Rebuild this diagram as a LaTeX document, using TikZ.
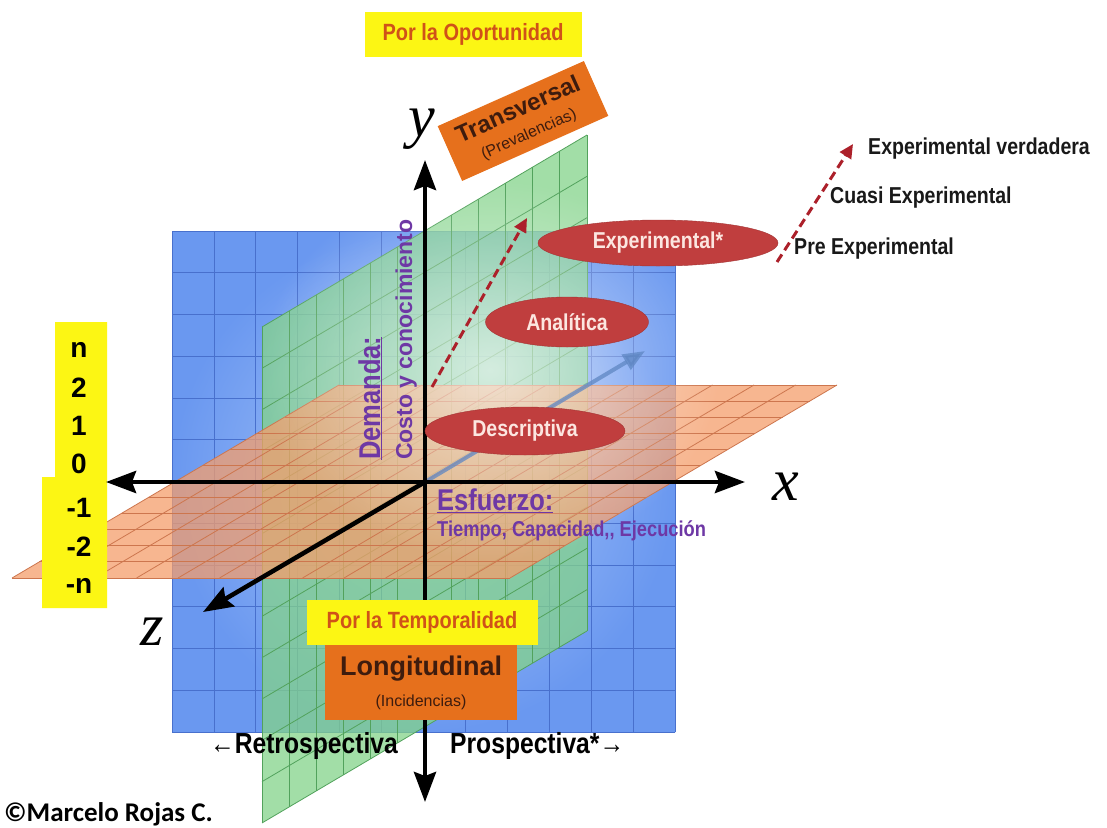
\documentclass[tikz,border=0pt]{standalone}
\usepackage{fontspec}
\setmainfont{Liberation Sans}
\newfontfamily\narrowfont[FakeStretch=0.85]{Liberation Sans}
\newfontfamily\serifit{Liberation Serif}
\newfontfamily\signfont{Carlito}
\usetikzlibrary{arrows.meta,shapes.geometric,fadings}
\newcommand{\txtsize}[1]{\fontsize{#1}{#1}\selectfont}
\definecolor{planeblue}{RGB}{106,152,240}
\definecolor{planebluelight}{RGB}{172,200,248}
\definecolor{gridblue}{RGB}{72,112,205}
\definecolor{planegreen}{RGB}{132,212,138}
\definecolor{gridgreen}{RGB}{82,162,92}
\definecolor{planeorange}{RGB}{245,158,108}
\definecolor{gridorange}{RGB}{205,118,78}
\definecolor{ovalred}{RGB}{192,62,62}
\definecolor{ovaltext}{RGB}{252,230,224}
\definecolor{boxyellow}{RGB}{252,246,20}
\definecolor{boxorange}{RGB}{230,112,28}
\definecolor{titleorange}{RGB}{208,82,24}
\definecolor{darkbrown}{RGB}{62,28,14}
\definecolor{labelpurple}{RGB}{110,56,165}
\definecolor{dashred}{RGB}{172,32,42}
\definecolor{faintarrow}{RGB}{95,135,195}
\tikzfading[name=glowfade, inner color=transparent!35, outer color=transparent!100]

\begin{document}
\begin{tikzpicture}[x=1pt, y=-1pt,
    >={Stealth[length=30pt,width=22pt,inset=4pt]},
    axisline/.style={line width=4.5pt, black},
    oval/.style={ellipse, fill=ovalred, draw=ovalred!85!black, inner sep=0pt, text=ovaltext, font=\narrowfont\bfseries\txtsize{23}},
    yellowbox/.style={fill=boxyellow, inner sep=0pt, text=titleorange, font=\narrowfont\bfseries\txtsize{23.5}},
    orangebox/.style={fill=boxorange, inner sep=0pt, text=darkbrown, align=center},
    reddash/.style={dashred, line width=3pt, dash pattern=on 9pt off 5pt, -{Triangle[length=14pt,width=13pt]}},
    sidelabel/.style={anchor=base west, inner sep=0pt, text=black!90, font=\narrowfont\bfseries\txtsize{23}},
    axislabel/.style={anchor=base, inner sep=0pt, font=\serifit\itshape\txtsize{60}},
    purplelabel/.style={inner sep=0pt, text=labelpurple}]
  \useasboundingbox (0,0) rectangle (1107,827);
  \fill[white] (0,0) rectangle (1107,827);

  \shade[inner color=planebluelight, outer color=planeblue] (172,231) rectangle (675,732);
  \foreach \i in {0,...,12}{
    \draw[gridblue, line width=0.8pt] (172+\i*41.92,231) -- (172+\i*41.92,732);
    \draw[gridblue, line width=0.8pt] (172,231+\i*41.75) -- (675,231+\i*41.75);
  }

  \fill[planegreen, opacity=0.75] (262,327) -- (587,135) -- (587,631) -- (262,823) -- cycle;
  \foreach \i in {0,...,12}{
    \draw[gridgreen, line width=0.8pt] (262+\i*27.08,327-\i*16) -- (262+\i*27.08,823-\i*16);
    \draw[gridgreen, line width=0.8pt] (262,327+\i*41.33) -- (587,135+\i*41.33);
  }

  \fill[planeorange, opacity=0.75] (339,385) -- (837,385) -- (510,578) -- (12,578) -- cycle;
  \foreach \i in {0,...,12}{
    \draw[gridorange, line width=0.8pt] (339-\i*27.25,385+\i*16.08) -- (837-\i*27.25,385+\i*16.08);
    \draw[gridorange, line width=0.8pt] (339+\i*41.5,385) -- (12+\i*41.5,578);
  }

  \fill[white, path fading=glowfade] (490,370) ellipse [x radius=230, y radius=190];

  \fill[boxyellow] (55,322) -- (107,322) -- (107,608) -- (42,608) -- (42,477) -- (55,477) -- cycle;
  \foreach \t/\yy [count=\k] in {n/357,2/397,1/435,0/473,-1/517,-2/556,-n/593}
    \node[anchor=base, inner sep=0pt, font=\bfseries\txtsize{28}] (num\k) at (79,\yy) {\t};

  \coordinate (O) at (425,482);
  \coordinate (xneg) at (106,482);
  \coordinate (xpos) at (745,482);
  \coordinate (ytop) at (425,160);
  \coordinate (ybot) at (425,802);
  \coordinate (zpos) at (203,612);
  \coordinate (zneg) at (645,351);

  \draw[faintarrow, opacity=0.75, line width=4pt, -{Triangle[length=22pt,width=17pt]}] (O) -- (zneg);
  \draw[axisline,<->] (xneg) -- (xpos);
  \draw[axisline,<->] (ybot) -- (ytop);
  \draw[axisline,->] (O) -- (zpos);

  \node[axislabel] (ylab) at (422,136) {y};
  \node[axislabel] (xlab) at (786,500) {x};
  \node[axislabel] (zlab) at (152,645) {z};

  \node[oval, minimum width=240pt, minimum height=46pt] (exper) at (658,243) {Experimental*};
  \node[oval, minimum width=163pt, minimum height=50pt] (analit) at (567,322) {Analítica};
  \node[oval, minimum width=200pt, minimum height=48pt] (descr) at (525,431) {Descriptiva};

  \coordinate (dash1a) at (432,387);
  \coordinate (dash1b) at (527,218);
  \coordinate (dash2a) at (777,262);
  \coordinate (dash2b) at (853,144);
  \draw[reddash] (dash1a) -- (dash1b);
  \draw[reddash] (dash2a) -- (dash2b);

  \node[sidelabel] (verdad) at (868,154) {Experimental verdadera};
  \node[sidelabel] (cuasi) at (830,203) {Cuasi Experimental};
  \node[sidelabel] (preexp) at (794,254) {Pre Experimental};

  \node[yellowbox, minimum width=217pt, minimum height=45pt] (oportun) at (473,34) {Por la Oportunidad};
  \node[orangebox, rotate=24, minimum width=160pt, minimum height=60pt, font=\txtsize{24}] (transv) at (523,121)
    {\bfseries Transversal\\{\txtsize{16}(Prevalencias)}};

  \node[yellowbox, minimum width=231pt, minimum height=45pt] (tempor) at (422,622) {Por la Temporalidad};
  \node[orangebox, minimum width=192pt, minimum height=75pt, anchor=north, font=\txtsize{31}] (longit) at (421,645)
    {{\bfseries\txtsize{27}Longitudinal}\\{\txtsize{16}(Incidencias)}};

  \node[purplelabel, rotate=90, anchor=base west, font=\narrowfont\bfseries\txtsize{30}] (demanda) at (380,460) {\underline{Demanda:}};
  \node[purplelabel, rotate=90, anchor=base west, font=\bfseries\txtsize{23}] (costo) at (412,460) {Costo y conocimiento};
  \node[purplelabel, anchor=base west, font=\narrowfont\bfseries\txtsize{30}] (esfuerzo) at (437,510) {\underline{Esfuerzo:}};
  \node[purplelabel, anchor=base west, font=\narrowfont\bfseries\txtsize{21.5}] (tiempo) at (437,536) {Tiempo, Capacidad,, Ejecución};

  \node[anchor=base east, inner sep=0pt, font=\narrowfont\bfseries\txtsize{29}] (retro) at (398,753) {←Retrospectiva};
  \node[anchor=base west, inner sep=0pt, font=\narrowfont\bfseries\txtsize{29}] (prosp) at (450,753) {Prospectiva*→};
  \node[anchor=base west, inner sep=0pt, font=\signfont\bfseries\txtsize{27}] (author) at (4,821) {©Marcelo Rojas C.};
\end{tikzpicture}
\end{document}
